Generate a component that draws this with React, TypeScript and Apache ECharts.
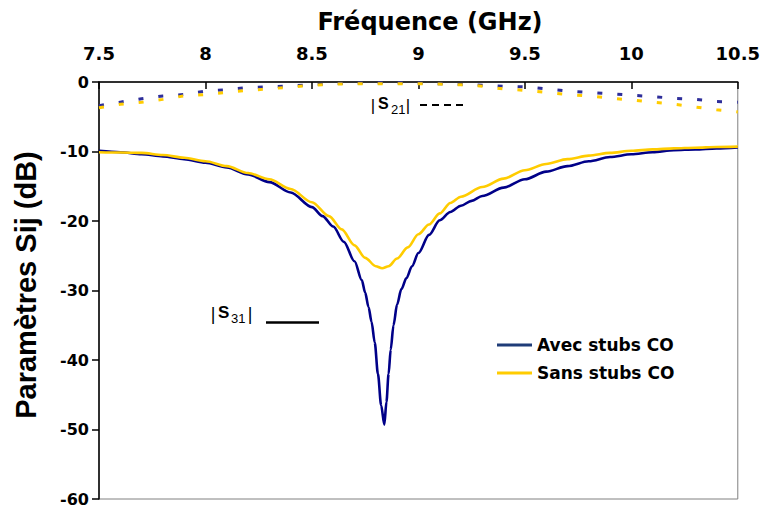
import React, { useEffect, useRef } from "react";
import * as echarts from "echarts";

// |S31| — Avec stubs CO
const s31AvecFreq = [7.5, 7.6, 7.7, 7.8, 7.9, 8.0, 8.1, 8.2, 8.3, 8.4, 8.5, 8.55, 8.6, 8.65, 8.7, 8.734, 8.75, 8.766, 8.78, 8.795, 8.81, 8.825, 8.84, 8.85, 8.86, 8.87, 8.883, 8.9, 8.92, 8.944, 8.97, 9.0, 9.05, 9.1, 9.15, 9.2, 9.25, 9.3, 9.4, 9.5, 9.6, 9.7, 9.8, 9.9, 10.0, 10.1, 10.2, 10.3, 10.4, 10.5];
const s31AvecDb = [-9.9, -10.1, -10.4, -10.7, -11.1, -11.6, -12.3, -13.3, -14.4, -15.9, -18.0, -19.3, -20.8, -23.0, -25.8, -28.5, -30.3, -32.4, -34.5, -37.5, -42.0, -46.5, -49.3, -46.0, -42.0, -38.5, -35.0, -32.0, -29.8, -28.2, -26.5, -24.6, -22.0, -19.9, -18.7, -17.8, -17.1, -16.4, -15.2, -14.0, -12.9, -12.1, -11.4, -10.8, -10.4, -10.1, -9.8, -9.7, -9.55, -9.4];

// |S31| — Sans stubs CO
const s31SansFreq = [7.5, 7.6, 7.7, 7.8, 7.9, 8.0, 8.1, 8.2, 8.3, 8.4, 8.5, 8.58, 8.64, 8.7, 8.75, 8.8, 8.83, 8.86, 8.9, 8.95, 9.0, 9.05, 9.1, 9.15, 9.2, 9.3, 9.4, 9.5, 9.6, 9.7, 9.8, 9.9, 10.0, 10.1, 10.2, 10.3, 10.4, 10.5];
const s31SansDb = [-10.1, -10.15, -10.2, -10.5, -10.9, -11.4, -12.1, -13.1, -14.0, -15.4, -17.3, -19.3, -21.2, -23.5, -25.3, -26.5, -26.8, -26.5, -25.4, -23.8, -21.9, -20.5, -18.9, -17.4, -16.5, -15.1, -13.9, -12.7, -11.8, -11.1, -10.6, -10.2, -9.9, -9.7, -9.55, -9.45, -9.35, -9.3];

// |S21| — Avec stubs CO
const s21AvecFreq = [7.5, 7.6, 7.7, 7.8, 7.9, 8.0, 8.1, 8.2, 8.3, 8.4, 8.5, 8.6, 8.7, 8.8, 8.9, 9.0, 9.1, 9.2, 9.3, 9.4, 9.5, 9.6, 9.7, 9.8, 9.9, 10.0, 10.1, 10.2, 10.3, 10.4, 10.5];
const s21AvecDb = [-3.4, -2.9, -2.4, -2.0, -1.8, -1.3, -1.1, -0.8, -0.7, -0.55, -0.4, -0.25, -0.15, -0.1, -0.1, -0.15, -0.25, -0.35, -0.45, -0.6, -0.7, -1.0, -1.3, -1.5, -1.7, -1.9, -2.1, -2.35, -2.5, -2.8, -2.9];

// |S21| — Sans stubs CO
const s21SansFreq = [7.5, 7.6, 7.7, 7.8, 7.9, 8.0, 8.1, 8.2, 8.3, 8.4, 8.5, 8.6, 8.7, 8.8, 8.9, 9.0, 9.1, 9.2, 9.3, 9.4, 9.5, 9.6, 9.7, 9.8, 9.9, 10.0, 10.1, 10.2, 10.3, 10.4, 10.5];
const s21SansDb = [-3.7, -3.2, -2.9, -2.5, -2.0, -1.8, -1.5, -1.2, -1.0, -0.7, -0.5, -0.3, -0.25, -0.25, -0.25, -0.25, -0.3, -0.4, -0.6, -1.0, -1.2, -1.5, -1.8, -2.0, -2.3, -2.6, -2.9, -3.2, -3.6, -4.0, -4.3];

const legendNames = ["Avec stubs CO", "Sans stubs CO"];
const xTitle = "Fréquence (GHz)";
const yTitle = "Paramètres Sij (dB)";

const zip = (xs: number[], ys: number[]) => xs.map((x, i) => [x, ys[i]]);

export default function App() {
  const ref = useRef<HTMLDivElement>(null);
  useEffect(() => {
    if (!ref.current) return;
    const chart = echarts.init(ref.current, undefined, { renderer: "svg" });
    const BLUE = "#000088";
    const BLUE_D = "#2E2E9A";
    const YEL = "#FFCC00";
    const sym = { fontFamily: "Liberation Sans", fill: "#000" };
    chart.setOption({
      animation: false,
      grid: { left: 99, right: 22, top: 82, bottom: 9, show: true, borderColor: "#808080", borderWidth: 1 },
      xAxis: {
        type: "value", position: "top", min: 7.5, max: 10.5, interval: 0.5,
        axisLine: { show: true, onZero: false, lineStyle: { color: "#000", width: 1.5 } },
        axisTick: { show: true, inside: true, length: 7, lineStyle: { color: "#000", width: 1.5 } },
        axisLabel: { fontFamily: "DejaVu Sans", fontWeight: "bold", fontSize: 18, color: "#000", margin: 20 },
        splitLine: { show: false },
      },
      yAxis: {
        type: "value", min: -60, max: 0, interval: 10,
        axisLine: { show: true, onZero: false, lineStyle: { color: "#000", width: 1.5 } },
        axisTick: { show: true, inside: false, length: 7, lineStyle: { color: "#000", width: 1.5 } },
        axisLabel: { fontFamily: "DejaVu Sans", fontWeight: "bold", fontSize: 16, color: "#000", margin: 10 },
        splitLine: { show: false },
      },
      legend: {
        data: [
          { name: legendNames[0], itemStyle: { color: "#1F3C78" } },
          { name: legendNames[1], itemStyle: { color: YEL } },
        ],
        orient: "vertical", left: 497, top: 335, padding: 0, itemWidth: 35, itemHeight: 3, icon: "rect", itemGap: 8,
        textStyle: { fontFamily: "DejaVu Sans", fontWeight: "bold", fontSize: 17, color: "#000", lineHeight: 20 },
      },
      series: [
        { name: "S21 avec", type: "line", symbol: "none", data: zip(s21AvecFreq, s21AvecDb), lineStyle: { color: BLUE_D, width: 3, type: [5, 15] }, itemStyle: { color: BLUE_D } },
        { name: "S21 sans", type: "line", symbol: "none", data: zip(s21SansFreq, s21SansDb), lineStyle: { color: YEL, width: 3, type: [5, 15] }, itemStyle: { color: YEL } },
        { name: legendNames[0], type: "line", symbol: "none", smooth: 0.3, smoothMonotone: "x", data: zip(s31AvecFreq, s31AvecDb), lineStyle: { color: BLUE, width: 2.6 }, itemStyle: { color: BLUE } },
        { name: legendNames[1], type: "line", symbol: "none", smooth: 0.3, smoothMonotone: "x", data: zip(s31SansFreq, s31SansDb), lineStyle: { color: YEL, width: 2.6 }, itemStyle: { color: YEL } },
      ],
      graphic: [
        { type: "text", x: 430, y: 22, style: { text: xTitle, fontFamily: "DejaVu Sans", fontWeight: "bold", fontSize: 24, fill: "#000", align: "center", verticalAlign: "middle" } },
        { type: "text", x: 26, y: 285, rotation: Math.PI / 2, style: { text: yTitle, fontFamily: "Liberation Sans", fontWeight: "bold", fontSize: 29, fill: "#000", align: "center", verticalAlign: "middle" } },
        // |S21| annotation
        { type: "text", x: 373, y: 105, style: { ...sym, text: "|", fontSize: 17, align: "center", verticalAlign: "middle" } },
        { type: "text", x: 378, y: 103.5, style: { ...sym, text: "S", fontSize: 16, fontWeight: "bold", align: "left", verticalAlign: "middle" } },
        { type: "text", x: 391, y: 109, style: { ...sym, text: "21", fontSize: 13, align: "left", verticalAlign: "middle" } },
        { type: "text", x: 408, y: 105, style: { ...sym, text: "|", fontSize: 17, align: "center", verticalAlign: "middle" } },
        { type: "line", shape: { x1: 420, y1: 105, x2: 466, y2: 105 }, style: { stroke: "#000", lineWidth: 2, lineDash: [7, 5] } },
        // |S31| annotation
        { type: "text", x: 213, y: 314, style: { ...sym, text: "|", fontSize: 18, align: "center", verticalAlign: "middle" } },
        { type: "text", x: 218, y: 312.5, style: { ...sym, text: "S", fontSize: 17, fontWeight: "bold", align: "left", verticalAlign: "middle" } },
        { type: "text", x: 231, y: 318, style: { ...sym, text: "31", fontSize: 13, align: "left", verticalAlign: "middle" } },
        { type: "text", x: 250, y: 314, style: { ...sym, text: "|", fontSize: 18, align: "center", verticalAlign: "middle" } },
        { type: "line", shape: { x1: 266, y1: 322.5, x2: 319, y2: 322.5 }, style: { stroke: "#000", lineWidth: 2.7 } },
      ],
    });
    return () => chart.dispose();
  }, []);
  return <div ref={ref} style={{ position: "fixed", left: 0, top: 0, width: 763, height: 508, background: "#fff" }} />;
}
